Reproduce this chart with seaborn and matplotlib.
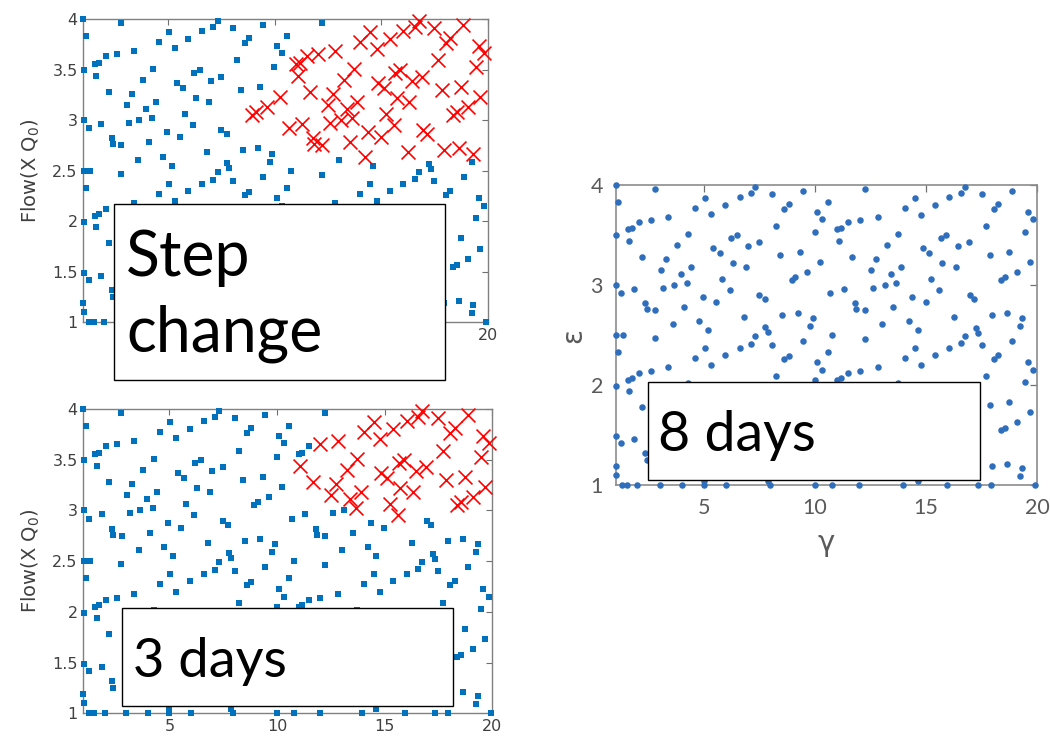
import pandas as pd
import matplotlib
matplotlib.use("Agg")
import matplotlib.pyplot as plt
from matplotlib.patches import Rectangle
import seaborn as sns

sns.set_theme(style="white")
plt.rcParams["font.family"] = ["DejaVu Sans"]

# sample points (gamma, epsilon), in four blocks
upper_left_gamma = [
    1.00, 2.77, 1.13, 5.02, 4.57, 5.32, 5.94, 6.59, 7.11, 7.31,
    8.05, 9.43, 8.80, 8.61, 10.10, 10.33, 8.23, 9.98, 1.55, 1.73,
    2.05, 2.58, 3.37, 1.02, 1.62, 4.27, 3.79, 6.21, 6.47, 7.49,
    6.99, 5.39, 5.69, 2.20, 3.27, 8.41, 9.33, 10.23, 6.29, 6.89,
    3.04, 4.42, 3.97, 5.78, 3.64, 4.22, 3.15, 1.85, 1.02, 1.25,
    6.14, 4.93, 5.54, 7.49, 7.74, 8.95, 9.10, 9.65, 2.35, 2.40,
    2.79, 4.09, 6.81, 8.52, 9.21, 9.89, 9.79, 3.58, 4.76, 5.18,
    7.76, 7.86, 1.02, 1.32, 2.77, 7.31]
upper_left_eps = [
    4.00, 3.96, 3.83, 3.87, 3.77, 3.71, 3.80, 3.88, 3.92, 3.98,
    3.91, 3.94, 3.81, 3.76, 3.73, 3.66, 3.59, 3.53, 3.56, 3.57,
    3.63, 3.65, 3.68, 3.50, 3.44, 3.51, 3.40, 3.47, 3.50, 3.43,
    3.39, 3.37, 3.32, 3.28, 3.26, 3.30, 3.33, 3.23, 3.22, 3.18,
    3.15, 3.18, 3.11, 3.06, 3.00, 3.02, 2.97, 2.96, 3.00, 2.92,
    2.95, 2.88, 2.83, 2.90, 2.86, 3.05, 3.08, 3.13, 2.82, 2.76,
    2.75, 2.78, 2.68, 2.70, 2.72, 2.67, 2.59, 2.61, 2.64, 2.55,
    2.58, 2.53, 2.50, 2.50, 2.47, 2.49]

upper_right_gamma = [
    10.58, 12.23, 14.49, 14.03, 14.79, 15.40, 16.05, 16.57, 16.76, 17.50,
    18.87, 18.26, 18.06, 19.58, 19.83, 17.69, 19.46, 11.00, 11.18, 11.50,
    12.02, 12.83, 11.09, 13.73, 13.25, 15.67, 15.91, 16.94, 16.45, 14.85,
    15.13, 11.65, 12.74, 17.87, 18.75, 19.67, 15.73, 16.33, 12.50, 13.88,
    13.41, 15.24, 13.13, 13.65, 12.59, 11.29, 10.69, 15.60, 14.38, 14.98,
    16.96, 17.17, 18.38, 18.56, 19.10, 11.80, 11.86, 12.24, 13.53, 16.25,
    17.96, 18.66, 19.34, 19.25, 13.02, 14.22, 14.62, 17.24, 17.36, 10.78,
    12.23, 16.76]
upper_right_eps = [
    3.83, 3.96, 3.87, 3.77, 3.70, 3.80, 3.88, 3.92, 3.98, 3.91,
    3.94, 3.81, 3.76, 3.73, 3.66, 3.59, 3.53, 3.56, 3.57, 3.63,
    3.65, 3.68, 3.44, 3.51, 3.40, 3.47, 3.50, 3.43, 3.39, 3.37,
    3.32, 3.28, 3.26, 3.30, 3.33, 3.23, 3.22, 3.18, 3.15, 3.18,
    3.11, 3.06, 3.00, 3.02, 2.97, 2.96, 2.92, 2.95, 2.88, 2.83,
    2.90, 2.86, 3.05, 3.08, 3.13, 2.82, 2.76, 2.75, 2.78, 2.68,
    2.70, 2.72, 2.67, 2.59, 2.61, 2.64, 2.55, 2.57, 2.52, 2.50,
    2.46, 2.49]

lower_left_gamma = [
    1.13, 5.02, 4.57, 5.32, 5.94, 6.59, 7.11, 8.05, 9.43, 8.80,
    8.61, 10.10, 10.33, 8.23, 1.55, 1.73, 2.05, 2.58, 3.37, 1.02,
    1.62, 2.20, 1.02, 1.25, 1.85, 2.35, 2.40, 1.00, 1.02, 1.28,
    1.50, 1.99, 2.99, 4.00, 5.00, 5.99, 7.96, 9.98, 4.97, 7.86,
    4.27, 10.00]
lower_left_eps = [
    2.33, 2.37, 2.27, 2.20, 2.30, 2.37, 2.41, 2.40, 2.44, 2.29,
    2.26, 2.23, 2.15, 2.09, 2.05, 2.07, 2.12, 2.14, 2.18, 1.99,
    1.94, 1.78, 1.49, 1.42, 1.46, 1.32, 1.25, 1.19, 1.10, 1.00,
    1.00, 1.00, 1.00, 1.00, 1.00, 1.00, 1.00, 1.00, 1.04, 1.04,
    2.02, 2.05]

lower_right_gamma = [
    10.58, 14.49, 14.03, 14.79, 15.40, 16.05, 16.57, 17.50, 18.89, 18.26,
    18.06, 19.58, 19.83, 17.69, 11.00, 11.18, 11.50, 12.02, 12.83, 13.73,
    19.46, 18.75, 17.87, 19.67, 19.10, 18.56, 18.38, 17.96, 18.66, 19.34,
    19.25, 10.78, 11.98, 13.97, 15.94, 17.36, 17.93, 19.92, 14.62]
lower_right_eps = [
    2.33, 2.37, 2.27, 2.20, 2.30, 2.37, 2.42, 2.40, 2.44, 2.30,
    2.26, 2.23, 2.15, 2.09, 2.05, 2.07, 2.12, 2.14, 2.18, 2.02,
    2.03, 1.83, 1.80, 1.73, 1.63, 1.57, 1.55, 1.19, 1.21, 1.17,
    1.09, 1.00, 1.00, 1.00, 1.00, 1.00, 1.00, 1.00, 1.04]

# points marked with a red cross (step change)
step_red_gamma = [
    8.95, 9.10, 9.65, 10.23, 10.69, 11.29, 11.00, 11.18, 11.50, 12.02,
    12.83, 11.09, 11.65, 11.80, 11.86, 12.24, 12.74, 13.25, 13.73, 14.03,
    14.49, 14.79, 15.40, 16.05, 16.57, 16.76, 17.50, 18.87, 18.26, 18.06,
    19.58, 19.83, 17.69, 19.46, 14.85, 15.13, 15.67, 15.91, 16.45, 16.94,
    17.87, 18.75, 19.67, 19.10, 18.38, 18.56, 15.73, 16.33, 12.50, 13.41,
    13.65, 13.88, 12.59, 13.13, 15.24, 15.60, 14.38, 14.98, 13.53, 14.22,
    16.96, 17.17, 16.25, 17.96, 18.66, 19.34]
step_red_eps = [
    3.05, 3.08, 3.13, 3.23, 2.92, 2.96, 3.56, 3.57, 3.63, 3.65,
    3.68, 3.44, 3.28, 2.82, 2.76, 2.75, 3.26, 3.40, 3.51, 3.77,
    3.87, 3.70, 3.80, 3.88, 3.92, 3.98, 3.91, 3.94, 3.81, 3.76,
    3.73, 3.66, 3.59, 3.53, 3.37, 3.32, 3.47, 3.50, 3.39, 3.43,
    3.30, 3.33, 3.23, 3.13, 3.05, 3.08, 3.22, 3.18, 3.15, 3.11,
    3.02, 3.18, 2.97, 3.00, 3.06, 2.95, 2.88, 2.83, 2.78, 2.64,
    2.90, 2.86, 2.68, 2.70, 2.72, 2.67]

# points marked with a red cross (3 days)
days3_red_gamma = [
    11.09, 11.65, 12.02, 12.83, 12.50, 12.74, 13.25, 13.73, 13.41, 13.65,
    13.88, 14.03, 14.49, 14.79, 15.40, 16.05, 16.57, 16.76, 17.50, 18.87,
    18.26, 18.06, 19.58, 19.83, 17.69, 19.46, 14.85, 15.13, 15.67, 15.91,
    16.45, 16.94, 17.87, 18.75, 19.67, 19.10, 18.38, 18.56, 15.73, 16.33,
    15.24, 15.60]
days3_red_eps = [
    3.44, 3.28, 3.65, 3.68, 3.15, 3.26, 3.40, 3.51, 3.11, 3.02,
    3.18, 3.77, 3.87, 3.70, 3.80, 3.88, 3.92, 3.98, 3.91, 3.94,
    3.81, 3.76, 3.73, 3.66, 3.59, 3.53, 3.37, 3.32, 3.47, 3.50,
    3.39, 3.43, 3.30, 3.33, 3.23, 3.13, 3.05, 3.08, 3.22, 3.18,
    3.06, 2.95]

flow_ticks = [1, 1.5, 2, 2.5, 3, 3.5, 4]
eps_ticks = [1, 2, 3, 4]
gamma_ticks = [5, 10, 15, 20]

points = pd.DataFrame({
    "gamma": upper_left_gamma + upper_right_gamma + lower_left_gamma + lower_right_gamma,
    "eps": upper_left_eps + upper_right_eps + lower_left_eps + lower_right_eps,
})

BLUE_SQ = "#0072BD"
BLUE_DOT = "#2F6EBD"
RED = "#FF0000"


def flow_panel(ax, red_g, red_e, show_xlabels=True):
    red = set(zip(red_g, red_e))
    is_red = [(g, e) in red for g, e in zip(points["gamma"], points["eps"])]
    blue = points[[not r for r in is_red]]
    sns.scatterplot(data=blue, x="gamma", y="eps", marker="s", s=15,
                    color=BLUE_SQ, linewidth=0, ax=ax, clip_on=False, zorder=3)
    sns.scatterplot(x=red_g, y=red_e, marker="x", s=100, color=RED,
                    linewidth=1.2, ax=ax, clip_on=False, zorder=4)
    ax.set_xlim(1, 20)
    ax.set_ylim(1, 4)
    ax.set_xticks(gamma_ticks)
    if show_xlabels:
        ax.set_xticklabels([str(t) for t in gamma_ticks])
    else:
        # only the last label peeks out from under the text box
        ax.set_xticklabels([""] * (len(gamma_ticks) - 1) + [str(gamma_ticks[-1])])
    ax.set_yticks(flow_ticks)
    ax.set_yticklabels([f"{t:g}" for t in flow_ticks])
    ax.tick_params(direction="in", top=True, right=True, length=4, width=0.8,
                   color="#707070", labelcolor="#404040", labelsize=11.5, pad=4)
    ax.set_xlabel("")
    ax.set_ylabel("Flow(X Q$_0$)", fontsize=14, color="#404040", labelpad=7)
    for sp in ax.spines.values():
        sp.set_color("#808080")
        sp.set_linewidth(1.0)


fig = plt.figure(figsize=(10.5, 7.41), dpi=100)
ax_step = fig.add_axes([0.0793, 0.565, 0.385, 0.4093])
ax_3d = fig.add_axes([0.0793, 0.0374, 0.3895, 0.4107])
ax_8d = fig.add_axes([0.5862, 0.345, 0.4014, 0.4057])

flow_panel(ax_step, step_red_gamma, step_red_eps, show_xlabels=False)
flow_panel(ax_3d, days3_red_gamma, days3_red_eps)

sns.scatterplot(data=points, x="gamma", y="eps", marker="o", s=22,
                color=BLUE_DOT, linewidth=0, ax=ax_8d, clip_on=False, zorder=3)
ax_8d.set_xlim(1, 20)
ax_8d.set_ylim(1, 4)
ax_8d.set_xticks(gamma_ticks)
ax_8d.set_yticks(eps_ticks)
ax_8d.tick_params(direction="in", top=True, right=True, length=5, width=0.9,
                  color="#707070", labelcolor="#5a5a5a", labelsize=15.5, pad=9)
for lab in ax_8d.get_xticklabels() + ax_8d.get_yticklabels():
    lab.set_family(["Lato", "DejaVu Sans"])
ax_8d.set_xlabel("\u03b3", fontsize=21, color="#5a5a5a", labelpad=8)
ax_8d.set_ylabel("\u03b5", fontsize=20, color="#5a5a5a", labelpad=2)
for sp in ax_8d.spines.values():
    sp.set_color("#8c8c8c")
    sp.set_linewidth(1.2)

# text boxes laid over the panels
boxes = [
    ((0.1086, 0.4872, 0.3152, 0.2375), (0.120, 0.525), "Step\nchange", 45, 1.38),
    ((0.1159, 0.0476, 0.3155, 0.1323), (0.127, 0.086), "3 days", 39, 1.2),
    ((0.6171, 0.3522, 0.3162, 0.1323), (0.627, 0.392), "8 days", 40, 1.2),
]
for (x0, y0, w, h), (tx, ty), label, size, spacing in boxes:
    fig.add_artist(Rectangle((x0, y0), w, h, transform=fig.transFigure,
                             facecolor="white", edgecolor="black", linewidth=1.0, zorder=5))
    fig.text(tx, ty, label, fontsize=size, family=["Lato", "DejaVu Sans"],
             color="black", ha="left", va="baseline", linespacing=spacing, zorder=6)

fig.savefig("out.png", dpi=100)
